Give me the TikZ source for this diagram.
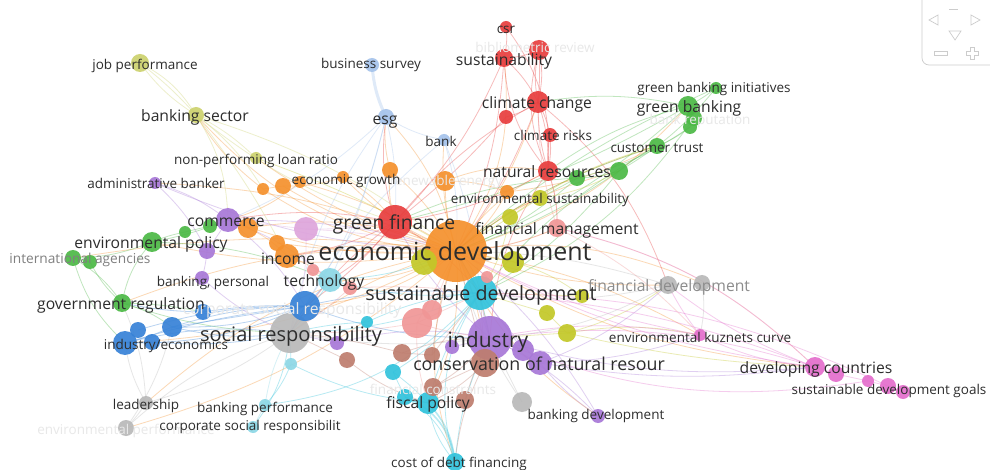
\documentclass[tikz,border=0pt]{standalone}
\usepackage{fontspec}
\setmainfont{Open Sans}
\definecolor{cR}{RGB}{232,62,62}
\definecolor{cG}{RGB}{76,185,70}
\definecolor{cO}{RGB}{245,145,45}
\definecolor{cP}{RGB}{168,120,215}
\definecolor{cL}{RGB}{222,165,220}
\definecolor{cY}{RGB}{195,200,40}
\definecolor{cYl}{RGB}{205,210,110}
\definecolor{cC}{RGB}{50,195,220}
\definecolor{cCl}{RGB}{140,215,230}
\definecolor{cB}{RGB}{55,130,215}
\definecolor{cBl}{RGB}{165,195,235}
\definecolor{cGy}{RGB}{185,185,185}
\definecolor{cS}{RGB}{240,150,150}
\definecolor{cBr}{RGB}{190,125,110}
\definecolor{cM}{RGB}{228,110,205}
\definecolor{txt}{RGB}{45,45,45}
\begin{document}
\begin{tikzpicture}[x=1pt,y=-1pt,
  lnk/.style={draw=#1, draw opacity=0.35, line width=0.8pt},
  bub/.style={circle, inner sep=0pt, draw=none, fill=#1, fill opacity=0.92},
  lab/.style={inner sep=0pt, text=txt, text height=0.75em, text depth=0.15em, yshift={-0.25*#1}, font=\fontsize{#1}{#1}\selectfont},
  ghost/.style={inner sep=0pt, text=gray!18, text height=0.75em, text depth=0.15em, yshift={-0.25*#1}, font=\fontsize{#1}{#1}\selectfont},
  nav/.style={draw=gray!40, line width=0.7pt}]
\fill[white] (0,0) rectangle (990,470);
\useasboundingbox (0,0) rectangle (990,470);
% ---------- positions ----------
\foreach \n/\x/\y in {
 csr/506/27, biblio/539/50, sust/504/58, cc/538/102, rbank/506/117, crisk/550/135, natres/548/171, gfin/395/222,
 gbi/716/88, gb/688/106, g2/694/118, g3/690/127, ctrust/657/146, g4/619/171, g5/577/178,
 envpol/152/242, g7/185/232, g8/210/226, intag1/73/258, intag2/90/262, govreg/122/303,
 ecodev/456/251, og1/263/189, og2/283/186, og3/300/182, og4/343/177, og5/390/170, og6/445/181, og7/507/192, og8/248/228, inc/287/256, og9/277/243,
 admb/155/183, comm/228/220, p2/207/251, p3/202/278, ind/490/338, p4/540/363, p5/523/350, p6/452/347, p7/337/343, bdev/598/416, lil/306/229,
 jobp/140/63, banks/196/115, nploan/256/158, y1/510/217, y2/540/198, y3/513/262, y4/424/262, y5/547/313, y6/567/333, y7/582/296,
 sdev/480/293, tech/330/280, c2/367/322, c4/393/372, c5/405/397, fiscal/428/403, costdebt/455/462, bperf/265/405, csrb/253/427, c3/291/364,
 bsurv/372/65, esg/386/117, bank/444/140, b1/305/306, b2/203/312, b3/172/327, b4/125/343, b5/152/342, b6/138/330,
 socresp/290/333, findev1/668/285, findev2/702/283, lead/146/403, envperf/126/428, gy1/522/402,
 s1/417/323, s2/432/310, s3/350/288, s4/313/270, fm/557/228, s5/487/277,
 br1/485/363, br2/402/353, br3/432/355, br4/433/387, br5/465/400, br6/347/360,
 kuz/700/335, dc/815/367, dc2/836/374, m3/868/381, m4/888/386, m5/903/392}
 {\coordinate (\n) at (\x,\y);}
% ---------- links ----------
\foreach \ea/\eb/\bd/\col in {
 ecodev/gfin/10/cO, ecodev/tech/15/cO, ecodev/inc/-10/cO, ecodev/comm/12/cO, ecodev/og1/15/cO, ecodev/og2/10/cO, ecodev/og3/-8/cO, ecodev/og4/12/cO,
 ecodev/og5/-10/cO, ecodev/og6/8/cO, ecodev/og7/-12/cO, ecodev/og8/-15/cO, ecodev/banks/20/cO, ecodev/nploan/10/cO, ecodev/esg/-15/cO, ecodev/bank/10/cO,
 ecodev/cc/-10/cO, ecodev/natres/15/cO, ecodev/sust/-20/cO, ecodev/gb/-15/cO, ecodev/ctrust/10/cO, ecodev/findev1/-10/cO, ecodev/dc/-12/cO, ecodev/kuz/10/cO,
 ecodev/bdev/-15/cO, ecodev/ind/10/cO, ecodev/socresp/-10/cO, ecodev/b1/15/cO, ecodev/govreg/-12/cO, ecodev/envpol/10/cO, ecodev/intag1/-8/cO, ecodev/b4/12/cO,
 ecodev/admb/-10/cO, ecodev/fiscal/15/cO, ecodev/costdebt/-20/cO, ecodev/br1/10/cO, ecodev/sdev/20/cO, ecodev/fm/-10/cO, ecodev/y2/10/cO, ecodev/g4/12/cO,
 ecodev/findev2/15/cO, ecodev/lead/-15/cO, ecodev/envperf/12/cO, og1/og2/0/cO, og2/og4/-10/cO, og1/banks/10/cO, og8/inc/10/cO, og8/comm/0/cO, inc/tech/10/cO,
 og6/og7/10/cO, og5/gfin/-10/cO, og4/gfin/10/cO, og3/comm/12/cO, og9/ecodev/-5/cO, og6/natres/15/cO, og7/ctrust/-10/cO, og5/esg/10/cO,
 csr/sust/10/cR, sust/biblio/-10/cR, biblio/cc/12/cR, biblio/cc/-12/cR, biblio/cc/4/cR, sust/cc/10/cR, cc/crisk/8/cR, cc/natres/-8/cR, cc/natres/10/cR,
 crisk/natres/-6/cR, crisk/natres/8/cR, sust/gfin/10/cR, cc/gfin/-10/cR, rbank/gfin/5/cR, rbank/cc/-10/cR, natres/gfin/10/cR, cc/ecodev/8/cR, sust/ecodev/10/cR,
 sust/natres/-18/cR, gfin/tech/10/cR, gfin/socresp/-10/cR, gfin/comm/-10/cR, gfin/esg/12/cR, natres/ind/-15/cR, gfin/sdev/10/cR, csr/natres/20/cR,
 gfin/b1/8/cR, natres/fm/10/cR, biblio/natres/-20/cR, cc/findev1/15/cR, gfin/inc/10/cR,
 gbi/gb/5/cG, gb/g2/10/cG, g2/g3/0/cG, g3/ctrust/8/cG, ctrust/g4/-6/cG, g4/g5/8/cG, gb/ecodev/10/cG, gbi/ecodev/-8/cG, ctrust/ecodev/-10/cG, g4/ecodev/8/cG,
 g5/ecodev/10/cG, cc/gb/10/cG, g5/gfin/-10/cG, envpol/intag1/10/cG, intag1/intag2/0/cG, intag1/govreg/12/cG, intag2/govreg/-10/cG, envpol/govreg/-15/cG,
 envpol/g7/5/cG, g7/g8/0/cG, g8/comm/0/cG, envpol/comm/-5/cG, govreg/b3/10/cG, govreg/socresp/-8/cG, g4/sdev/10/cG, ctrust/sdev/-10/cG, gb/gfin/8/cG,
 gb/natres/-10/cG, g3/g5/10/cG, gbi/g4/10/cG, intag1/b4/-15/cG, envpol/tech/10/cG, govreg/b2/5/cG, g5/y2/0/cG, g2/sdev/15/cG,
 esg/bank/-10/cBl, esg/gfin/8/cBl, esg/b1/10/cBl, esg/socresp/-12/cBl, esg/tech/5/cBl, bank/ecodev/10/cBl, bank/b1/-10/cBl, bank/sdev/8/cBl, esg/comm/10/cBl,
 b1/b3/10/cB, b1/b3/-8/cB, b1/b3/0/cB, b1/b4/12/cB, b1/b4/-5/cB, b3/b4/5/cB, b4/b5/0/cB, b5/socresp/-8/cB, b1/socresp/0/cB, b2/b1/5/cB, b2/govreg/5/cB,
 b1/ind/-10/cB, b1/sdev/8/cB, b4/socresp/10/cB, b3/socresp/-10/cB, b6/b1/8/cB, b1/tech/0/cB,
 fiscal/costdebt/-15/cC, sdev/costdebt/-25/cC, ind/costdebt/-10/cC, c5/costdebt/20/cC, fiscal/sdev/10/cC, c4/fiscal/5/cC, c2/sdev/10/cC,
 tech/sdev/-10/cC, tech/socresp/5/cC, c3/socresp/0/cC, c3/bperf/10/cC, bperf/csrb/0/cCl, csrb/socresp/-15/cC, bperf/sdev/-20/cC, sdev/ecodev/0/cC,
 sdev/socresp/10/cC, sdev/ind/0/cC, c4/sdev/-10/cC, c3/fiscal/-10/cC, tech/ecodev/-10/cC, c2/socresp/-5/cC, bperf/socresp/10/cCl, c4/c5/0/cC, c5/fiscal/0/cC,
 admb/comm/10/cP, admb/ecodev/-10/cP, admb/p2/10/cP, comm/ecodev/8/cP, comm/p2/0/cP, p2/p3/5/cP, p3/socresp/-10/cP, ind/bdev/10/cP, bdev/ecodev/-10/cP,
 ind/p4/0/cP, p5/ind/0/cP, p6/ind/0/cP, p7/socresp/0/cP, ind/ecodev/0/cP, p4/findev1/-10/cP, p4/kuz/-8/cP, ind/sdev/5/cP, bdev/p4/8/cP, p4/dc/-8/cP,
 ind/dc/-10/cP, p7/ind/12/cP, comm/tech/10/cP, p4/ecodev/8/cP, p5/sdev/0/cP, ind/gfin/10/cP, comm/b1/10/cP,
 jobp/banks/15/cYl, jobp/banks/-10/cYl, jobp/banks/5/cYl, banks/nploan/8/cYl, banks/og1/10/cYl, banks/ecodev/10/cYl, banks/gfin/-10/cYl, banks/comm/15/cYl,
 banks/inc/5/cYl, nploan/ecodev/5/cY, y1/ecodev/0/cY, y2/y1/0/cY, y3/ecodev/0/cY, y5/y6/0/cY, y6/ind/0/cY, y6/findev1/-10/cY, y7/sdev/0/cY, y4/ecodev/0/cY,
 y1/ctrust/10/cY, y2/g4/-10/cY, y6/kuz/10/cY, y5/sdev/0/cY, y3/y7/10/cY, y1/sdev/10/cY, y6/dc/-5/cY,
 dc/kuz/10/cM, dc/ind/-12/cM, dc/sdev/-8/cM, dc/ecodev/10/cM, dc/dc2/0/cM, dc2/m3/0/cM, m3/m4/0/cM, m4/m5/0/cM, kuz/ind/-10/cM, kuz/findev1/5/cM,
 dc/fm/-15/cM, dc/findev1/8/cM, m4/sdev/-12/cM, m3/ind/15/cM, kuz/ecodev/8/cM,
 findev1/findev2/0/cGy, findev1/ecodev/-8/cGy, findev1/sdev/10/cGy, lead/envperf/5/cGy, lead/b4/10/cGy, lead/socresp/-10/cGy, envperf/socresp/12/cGy,
 gy1/ind/0/cGy, gy1/ecodev/10/cGy, socresp/ind/-8/cGy, lead/govreg/-10/cGy, findev1/ind/12/cGy, envperf/b3/-10/cGy, findev2/kuz/10/cGy,
 br1/ecodev/0/cBr, br1/fiscal/10/cBr, br2/br3/0/cBr, br4/fiscal/0/cBr, br5/fiscal/0/cBr, br1/sdev/0/cBr, br6/socresp/0/cBr, br4/ind/-10/cBr, br5/ind/5/cBr,
 br3/ecodev/5/cBr, br2/socresp/-5/cBr, br2/ind/10/cBr, br6/fiscal/-10/cBr, br4/br1/0/cBr, br1/costdebt/-10/cBr, br3/sdev/0/cBr,
 s1/ecodev/0/cS, s1/socresp/5/cS, s1/sdev/0/cS, fm/ecodev/10/cS, fm/natres/-10/cS, fm/cc/8/cS, s2/ecodev/0/cS, s4/tech/0/cS, s3/sdev/5/cS, s1/ind/-5/cS,
 fm/dc/15/cS, s3/socresp/5/cS, s1/fiscal/-10/cS, s5/ecodev/0/cS, fm/kuz/10/cS,
 lil/ecodev/5/cL, lil/comm/0/cL, lil/gfin/-5/cL, lil/socresp/10/cL}
 {\draw[lnk=\col] (\ea) to[bend left=\bd] (\eb);}
\draw[lnk=cBl, line width=3pt] (bsurv) to[bend right=10] (esg);
\draw[lnk=cC, line width=1.6pt] (fiscal) to[bend left=18] (costdebt);
\draw[lnk=cC, line width=1.6pt] (c5) to[bend left=30] (costdebt);
% ---------- bubbles ----------
\foreach \n/\r/\col in {
 ecodev/31/cO, gfin/17/cR, sdev/17/cC, ind/22/cP, socresp/20/cGy, b1/15/cB, s1/15/cS, br1/14/cBr,
 csr/6/cR, biblio/10/cR, sust/9/cR, cc/11/cR, rbank/7/cR, crisk/7/cR, natres/10/cR,
 gbi/6/cG, gb/10/cG, g2/8/cG, g3/7/cG, ctrust/8/cG, g4/9/cG, g5/8/cG, envpol/10/cG, g7/6/cG, g8/7/cG, intag1/8/cG, intag2/7/cG, govreg/9/cG,
 og1/6/cO, og2/8/cO, og3/6/cO, og4/6/cO, og5/8/cO, og6/10/cO, og7/7/cO, og8/10/cO, inc/12/cO, og9/8/cO,
 admb/6/cP, comm/12/cP, p2/8/cP, p3/7/cP, p4/12/cP, p5/11/cP, p6/7/cP, p7/7/cP, bdev/7/cP, lil/12/cL,
 jobp/9/cYl, banks/8/cYl, nploan/6/cYl, y1/8/cY, y2/8/cY, y3/11/cY, y4/13/cY, y5/8/cY, y6/9/cY, y7/7/cY,
 tech/12/cCl, c2/6/cC, c4/8/cC, c5/8/cC, fiscal/11/cC, costdebt/9/cC, bperf/6/cCl, csrb/6/cCl, c3/6/cCl,
 bsurv/7/cBl, esg/8/cBl, bank/6/cBl, b2/8/cB, b3/10/cB, b4/12/cB, b5/8/cB, b6/8/cB,
 findev1/9/cGy, findev2/8/cGy, lead/7/cGy, envperf/8/cGy, gy1/10/cGy,
 s2/10/cS, s3/7/cS, s4/6/cS, fm/9/cS, s5/6/cS,
 br2/9/cBr, br3/8/cBr, br4/9/cBr, br5/9/cBr, br6/8/cBr,
 kuz/6/cM, dc/10/cM, dc2/8/cM, m3/6/cM, m4/8/cM, m5/7/cM}
 {\node[bub=\col, minimum size={2*\r}] (\n-b) at (\n) {};}
% ---------- faint labels ----------
\node[ghost=13.5] (t-biblio) at (535,46) {bibliometric review};
\node[ghost=13.5] (t-renew) at (446,179) {renewable energy};
\node[ghost=13.5] (t-brep) at (700,118) {bank reputation};
\node[ghost=15.7] (t-corp) at (292,308) {corporate social responsibility};
\node[ghost=13.5] (t-fcons) at (433,388) {financial constraints};
\node[ghost=13.5] (t-envperf) at (126,428) {environmental performance};
% ---------- labels ----------
\node[lab=13.5] (l-jobp) at (145,63) {job performance};
\node[lab=13.5] (l-bsurv) at (371,62) {business survey};
\node[lab=13.5] (l-csr) at (506,27) {csr};
\node[lab=15.7] (l-sust) at (504,59) {sustainability};
\node[lab=13.5] (l-gbi) at (714,86) {green banking initiatives};
\node[lab=15.7] (l-cc) at (537,102) {climate change};
\node[lab=15.7] (l-gb) at (689,106) {green banking};
\node[lab=15.7] (l-banks) at (195,115) {banking sector};
\node[lab=15.7] (l-esg) at (385,118) {esg};
\node[lab=13.5] (l-crisk) at (553,134) {climate risks};
\node[lab=13.5] (l-bank) at (441,140) {bank};
\node[lab=13.5] (l-ctrust) at (657,146) {customer trust};
\node[lab=13.5] (l-nploan) at (256,158) {non-performing loan ratio};
\node[lab=15.7] (l-natres) at (547,171) {natural resources};
\node[lab=13.5] (l-admb) at (156,182) {administrative banker};
\node[lab=13.5] (l-egrow) at (346,178) {economic growth};
\node[lab=13.5] (l-envsus) at (540,197) {environmental sustainability};
\node[lab=15.7] (l-comm) at (226,220) {commerce};
\node[lab=19.3] (l-gfin) at (394,222) {green finance};
\node[lab=15.7] (l-fm) at (557,228) {financial management};
\node[lab=15.7] (l-envpol) at (151,242) {environmental policy};
\node[lab=13.7, text=gray] (l-intag) at (80,257) {international agencies};
\node[lab=25] (l-ecodev) at (455,251) {economic development};
\node[lab=15.7] (l-inc) at (288,258) {income};
\node[lab=13.5] (l-bpers) at (213,280) {banking, personal};
\node[lab=15.7] (l-tech) at (324,280) {technology};
\node[lab=15.7, text=gray!90] (l-findev) at (669,285) {financial development};
\node[lab=19.7] (l-sdev) at (481,293) {sustainable development};
\node[lab=15.7] (l-govreg) at (121,303) {government regulation};
\node[lab=20] (l-socresp) at (291,333) {social responsibility};
\node[lab=21] (l-ind) at (488,339) {industry};
\node[lab=13.5] (l-kuz) at (700,336) {environmental kuznets curve};
\node[lab=13.5] (l-indeco) at (166,343) {industry/economics};
\node[lab=17.8] (l-cons) at (539,363) {conservation of natural resour};
\node[lab=15.7] (l-dc) at (816,367) {developing countries};
\node[lab=13.5] (l-sdg) at (889,388) {sustainable development goals};
\node[lab=15.7] (l-fiscal) at (428,402) {fiscal policy};
\node[lab=13.5] (l-lead) at (146,403) {leadership};
\node[lab=13.5] (l-bperf) at (265,406) {banking performance};
\node[lab=13.5] (l-bdev) at (596,413) {banking development};
\node[lab=13.5] (l-csrb) at (250,424) {corporate social responsibilit};
\node[lab=13.5] (l-cost) at (459,461) {cost of debt financing};
% ---------- navigation widget ----------
\draw[nav, rounded corners=7pt] (922,-8) -- (922,65) -- (1000,65);
\draw[nav] (929,20) -- (938,15) -- (938,25) -- cycle;
\draw[nav] (980,20) -- (971,15) -- (971,25) -- cycle;
\draw[nav] (955,40) -- (949,31) -- (961,31) -- cycle;
\draw[nav] (949,9) -- (958,9);
\draw[nav] (934,51) rectangle (947,55);
\draw[nav] (970,47) -- (974,47) -- (974,51) -- (978,51) -- (978,55) -- (974,55) -- (974,59) -- (970,59) -- (970,55) -- (966,55) -- (966,51) -- (970,51) -- cycle;
\end{tikzpicture}
\end{document}
